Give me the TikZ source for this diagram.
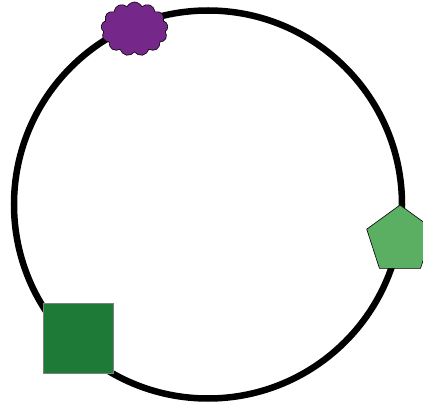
\documentclass[tikz,border=0pt]{standalone}
\usetikzlibrary{shapes.symbols,shapes.geometric}
\definecolor{cpurple}{HTML}{75288A}
\definecolor{cgreen}{HTML}{5AAF62}
\definecolor{cdark}{HTML}{1E7A37}
\tikzset{
  ring/.style={draw=black, line width=6.5pt},
  puff/.style={cloud, cloud puffs=13, cloud puff arc=130, aspect=1.3, draw=black, line width=0.6pt, fill=cpurple, minimum width=67pt, minimum height=54pt, inner sep=0pt},
  penta/.style={regular polygon, regular polygon sides=5, draw=black, line width=0.6pt, fill=cgreen, minimum size=70pt, inner sep=0pt},
  sq/.style={rectangle, draw=gray, line width=0.8pt, fill=cdark, minimum size=70pt, inner sep=0pt}
}
\begin{document}
\begin{tikzpicture}[x=1pt,y=-1pt]
\useasboundingbox (0,0) rectangle (423,406);
\node[circle, ring, minimum size=388pt, inner sep=0pt] (c) at (208,204.5) {};
\node[puff] (a) at (134.5,29) {};
\node[penta] (b) at (400,240) {};
\node[sq] (d) at (78,338) {};
\end{tikzpicture}
\end{document}
